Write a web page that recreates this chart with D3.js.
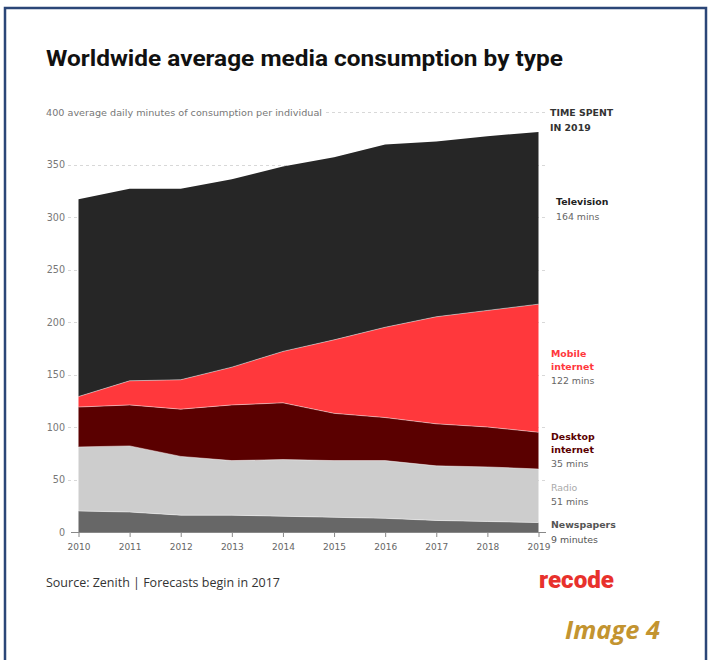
<!DOCTYPE html>
<html><head><meta charset="utf-8">
<script src="https://cdn.jsdelivr.net/npm/d3@7"></script>
<style>
html,body{margin:0;padding:0;background:#fff;}
svg{display:block;}
</style></head>
<body>
<svg id="c" width="713" height="660"></svg>
<script>
const years = [2010,2011,2012,2013,2014,2015,2016,2017,2018,2019];
const newspapers = [20,19,16,16,15,14,13,11,10,9];
const radio = [61,63,56,52,54,54,55,52,52,51];
const desktop = [38,39,45,53,54,45,41,40,38,35];
const mobile = [10,23,28,36,49,70,86,102,111,122];
const television = [188,183,182,179,176,174,174,167,166,164];
const yTicks = [0,50,100,150,200,250,300,350,400];
const seriesNames = ["Newspapers","Radio","Desktop internet","Mobile internet","Television"];
const seriesColors = ["#676767","#cdcdcd","#5a0000","#ff383c","#262626"];

const svg = d3.select("#c");
const font = "'DejaVu Sans', sans-serif";

// frame
svg.append("path").attr("d","M5,660 L5,8 L706,8 L706,660")
  .attr("fill","none").attr("stroke","#2b4677").attr("stroke-width",2.5);

// title
svg.append("text").attr("x",46).attr("y",66)
  .attr("font-family","Roboto, sans-serif").attr("font-weight",700)
  .attr("font-size",22).attr("fill","#111")
  .attr("textLength",517).attr("lengthAdjust","spacingAndGlyphs")
  .text("Worldwide average media consumption by type");

const x = d3.scaleLinear().domain([2010,2019]).range([78.5,538.5]);
const y = d3.scaleLinear().domain([0,400]).range([532,112]);

// gridlines
const grid = svg.append("g");
yTicks.filter(t=>t>0).forEach(t=>{
  const x0 = t===400 ? 326 : 68;
  grid.append("line").attr("x1",x0).attr("x2",546)
    .attr("y1",Math.round(y(t))+0.5).attr("y2",Math.round(y(t))+0.5)
    .attr("stroke","#d8d8d8").attr("stroke-width",1).attr("stroke-dasharray","3,3");
});

// y labels
yTicks.forEach(t=>{
  if(t===400){
    svg.append("text").attr("x",46).attr("y",y(t)+3.5)
      .attr("font-family",font).attr("font-size",9.2).attr("fill","#777")
      .attr("textLength",276).attr("lengthAdjust","spacingAndGlyphs")
      .text("400 average daily minutes of consumption per individual");
  } else {
    svg.append("text").attr("x",65).attr("y",y(t)+3.5).attr("text-anchor","end")
      .attr("font-family",font).attr("font-size",9.6).attr("fill","#777")
      .text(t);
  }
});

// stack
const table = years.map((yr,i)=>({year:yr,
  "Newspapers":newspapers[i],"Radio":radio[i],"Desktop internet":desktop[i],
  "Mobile internet":mobile[i],"Television":television[i]}));
const stack = d3.stack().keys(seriesNames)(table);
const area = d3.area().x(d=>x(d.data.year)).y0(d=>y(d[0])).y1(d=>y(d[1]));
const line = d3.line().x(d=>x(d.data.year)).y(d=>y(d[1]));
svg.append("g").selectAll("path").data(stack).join("path")
  .attr("d",area).attr("fill",(d,i)=>seriesColors[i]);
svg.append("g").selectAll("path").data(stack.slice(0,4)).join("path")
  .attr("d",line).attr("fill","none").attr("stroke","rgba(255,255,255,0.45)").attr("stroke-width",1);

// x axis
const xAxis = svg.append("g").attr("transform","translate(0,532)")
  .call(d3.axisBottom(x).tickValues(years).tickFormat(d3.format("d")).tickSize(5).tickSizeOuter(0));
xAxis.select(".domain").attr("stroke","#888").attr("d","M72,0.5H546");
xAxis.selectAll(".tick line").attr("stroke","#888");
xAxis.selectAll(".tick text").attr("font-family",font).attr("font-size",9).attr("fill","#666").attr("dy","1.15em");
// left small tick at 0
svg.append("line").attr("x1",71).attr("x2",77).attr("y1",532.5).attr("y2",532.5).attr("stroke","#888");

// right labels
const lab = svg.append("g").attr("font-family",font).attr("font-size",9.4);
function t(txt,xx,yy,col,bold){
  lab.append("text").attr("x",xx).attr("y",yy).attr("fill",col)
    .attr("font-weight",bold?700:400).text(txt);
}
t("TIME SPENT",550,116,"#333",true);
t("IN 2019",550,131,"#333",true);
t("Television",556,205,"#222",true);
t("164 mins",556,220,"#666",false);
t("Mobile",551,357,"#ff383c",true);
t("internet",551,370,"#ff383c",true);
t("122 mins",551,384,"#666",false);
t("Desktop",551,440,"#5a0000",true);
t("internet",551,453,"#5a0000",true);
t("35 mins",551,467,"#666",false);
t("Radio",551,491,"#aaa",false);
t("51 mins",551,505,"#666",false);
t("Newspapers",551,528,"#555",true);
t("9 minutes",551,543,"#555",false);

// source
svg.append("text").attr("x",46).attr("y",587)
  .attr("font-family","'Open Sans', sans-serif").attr("font-size",12.5).attr("fill","#333")
  .text("Source: Zenith | Forecasts begin in 2017");
// logo
svg.append("text").attr("x",539).attr("y",588)
  .attr("font-family","Roboto, sans-serif").attr("font-weight",900).attr("font-size",23)
  .attr("fill","#e8312c").attr("textLength",75).attr("lengthAdjust","spacingAndGlyphs")
  .text("recode");

// Image 4
svg.append("text").attr("x",565).attr("y",639)
  .attr("font-family","'Open Sans', sans-serif").attr("font-weight",700).attr("font-style","italic")
  .attr("font-size",25.5).attr("fill","#c39430")
  .text("Image 4");
</script>
</body></html>
